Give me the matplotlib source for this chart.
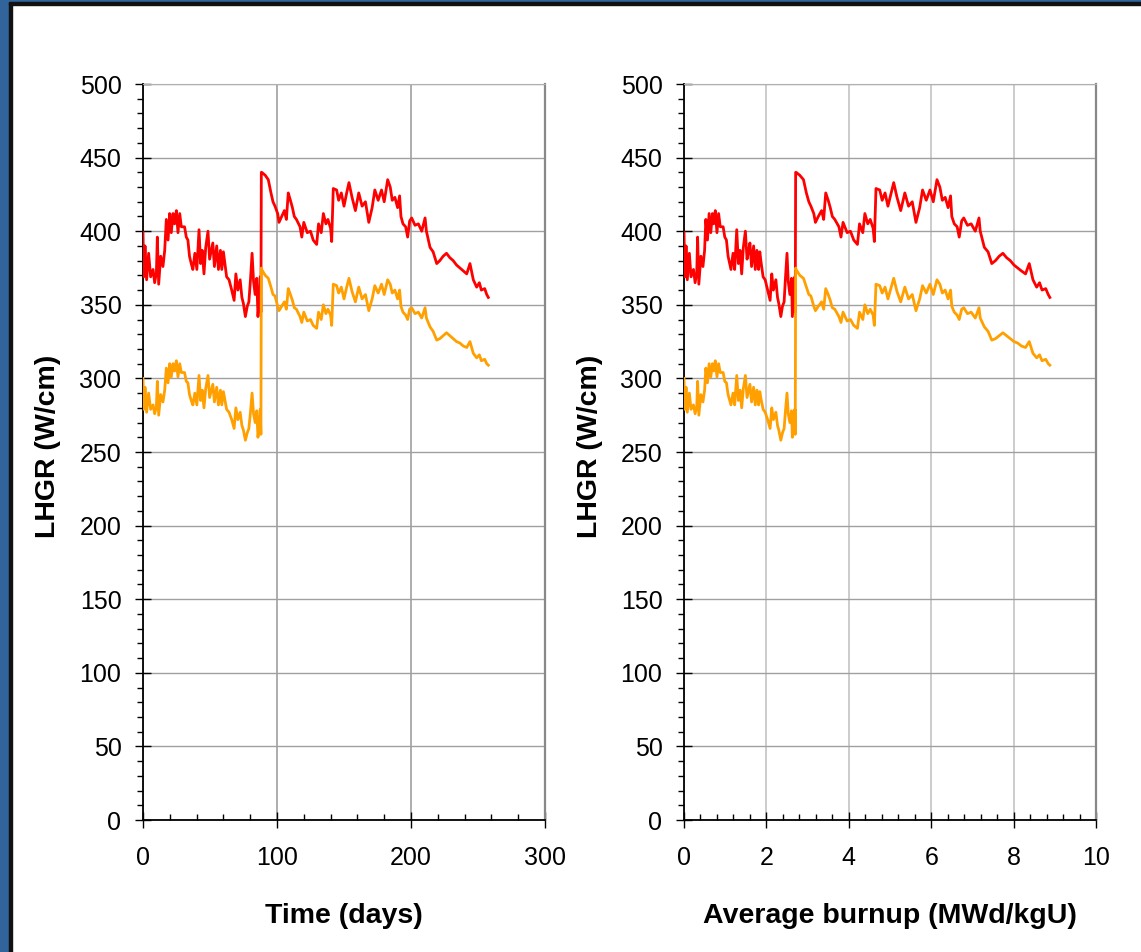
import numpy as np
import matplotlib
matplotlib.use('Agg')
import matplotlib.pyplot as plt
from matplotlib.ticker import MultipleLocator
from matplotlib.patches import Rectangle

plt.rcParams['font.family'] = ['Liberation Sans', 'DejaVu Sans']

# time (days)
time = [0.0, 0.6, 1.5, 2.7, 4.2, 5.7, 7.5, 8.7, 10.0, 10.7,
        11.7, 13.2, 14.9, 16.2, 17.4, 18.7, 19.9, 21.1, 22.4, 23.6,
        24.9, 26.1, 27.4, 28.6, 31.0, 32.3, 33.5, 34.7, 36.0, 37.2,
        38.7, 40.2, 41.8, 43.0, 44.2, 45.5, 46.8, 48.5, 49.7, 51.0,
        52.1, 53.3, 55.0, 56.3, 57.8, 58.8, 60.0, 61.0, 62.4, 64.2,
        66.2, 68.0, 69.3, 70.8, 72.5, 73.8, 74.9, 76.4, 77.8, 79.0,
        80.2, 81.4, 82.5, 83.7, 84.9, 85.8, 86.8, 87.5, 88.0, 88.3,
        88.6, 91.2, 93.5, 95.5, 97.0, 98.5, 100.5, 101.5, 103.5, 105.5,
        107.0, 108.4, 110.0, 111.5, 112.9, 114.5, 117.2, 118.5, 120.0, 122.6,
        125.0, 127.0, 129.6, 131.0, 133.0, 134.6, 136.5, 138.0, 140.0, 140.8,
        142.0, 144.5, 146.0, 148.0, 150.0, 152.0, 153.7, 156.0, 158.5, 161.0,
        163.5, 166.0, 168.5, 171.0, 173.0, 175.5, 178.0, 180.0, 182.6, 184.5,
        186.0, 188.0, 190.0, 191.5, 192.5, 194.0, 196.0, 197.5, 199.0, 200.5,
        203.0, 205.5, 208.0, 210.5, 211.5, 214.2, 216.5, 219.2, 221.5, 224.0,
        226.5, 229.0, 231.5, 234.0, 236.5, 239.0, 241.6, 244.0, 246.5, 249.0,
        251.0, 252.5, 255.0, 256.5, 257.7]

# average burnup (MWd/kgU) at the same samples
burnup = [0.00, 0.02, 0.05, 0.08, 0.13, 0.17, 0.23, 0.27, 0.31, 0.33,
          0.36, 0.41, 0.46, 0.50, 0.53, 0.57, 0.61, 0.65, 0.69, 0.72,
          0.76, 0.80, 0.84, 0.88, 0.95, 0.99, 1.03, 1.07, 1.11, 1.14,
          1.19, 1.23, 1.28, 1.32, 1.36, 1.40, 1.44, 1.49, 1.53, 1.57,
          1.60, 1.64, 1.69, 1.73, 1.77, 1.81, 1.84, 1.87, 1.92, 1.97,
          2.03, 2.09, 2.13, 2.17, 2.23, 2.27, 2.30, 2.35, 2.39, 2.43,
          2.46, 2.50, 2.53, 2.57, 2.61, 2.63, 2.66, 2.69, 2.70, 2.71,
          2.72, 2.81, 2.90, 2.97, 3.03, 3.08, 3.15, 3.19, 3.26, 3.34,
          3.39, 3.44, 3.50, 3.55, 3.60, 3.66, 3.76, 3.81, 3.86, 3.96,
          4.04, 4.12, 4.21, 4.26, 4.34, 4.39, 4.46, 4.52, 4.59, 4.62,
          4.66, 4.75, 4.81, 4.88, 4.95, 5.03, 5.09, 5.17, 5.26, 5.36,
          5.45, 5.54, 5.63, 5.72, 5.79, 5.88, 5.97, 6.05, 6.14, 6.21,
          6.27, 6.34, 6.41, 6.47, 6.50, 6.56, 6.63, 6.68, 6.74, 6.79,
          6.88, 6.97, 7.07, 7.16, 7.19, 7.29, 7.38, 7.47, 7.56, 7.65,
          7.74, 7.83, 7.92, 8.01, 8.10, 8.19, 8.29, 8.38, 8.47, 8.56,
          8.63, 8.69, 8.78, 8.84, 8.88]

# peak LHGR (W/cm) - red
lhgr_peak = [399, 369, 390, 367, 385, 369, 374, 365, 372, 396,
             364, 383, 376, 387, 408, 394, 412, 399, 412, 405,
             414, 399, 412, 403, 403, 396, 394, 383, 378, 374,
             385, 374, 401, 378, 387, 371, 389, 400, 381, 387,
             392, 376, 390, 374, 387, 374, 386, 379, 369, 367,
             360, 353, 371, 360, 367, 355, 351, 342, 349, 352,
             367, 385, 366, 357, 368, 342, 355, 369, 345, 440,
             440, 438, 435, 426, 420, 417, 412, 406, 410, 414,
             408, 426, 421, 416, 410, 408, 403, 396, 406, 399,
             400, 394, 391, 405, 399, 412, 405, 408, 402, 393,
             429, 428, 421, 426, 417, 426, 433, 423, 414, 426,
             417, 420, 406, 416, 428, 421, 428, 420, 435, 430,
             421, 423, 416, 424, 410, 405, 403, 396, 407, 409,
             404, 405, 400, 409, 400, 389, 386, 378, 380, 383,
             385, 382, 380, 377, 375, 373, 371, 378, 367, 362,
             365, 360, 361, 357, 355]

# average LHGR (W/cm) - orange
lhgr_avg = [300, 279, 294, 277, 290, 279, 282, 276, 281, 298,
            275, 289, 284, 292, 307, 297, 310, 301, 310, 305,
            312, 301, 310, 304, 304, 298, 297, 289, 285, 282,
            290, 282, 302, 285, 292, 280, 293, 302, 287, 292,
            296, 284, 294, 282, 292, 282, 291, 286, 279, 277,
            272, 266, 280, 272, 277, 268, 265, 258, 263, 266,
            277, 290, 276, 270, 278, 260, 268, 279, 262, 375,
            374, 370, 368, 362, 357, 356, 349, 346, 349, 352,
            347, 361, 357, 353, 348, 347, 342, 338, 345, 339,
            340, 336, 334, 345, 340, 350, 344, 347, 343, 336,
            364, 363, 358, 362, 354, 362, 368, 359, 352, 362,
            354, 357, 346, 354, 363, 358, 364, 357, 367, 364,
            358, 360, 354, 360, 349, 345, 343, 340, 347, 348,
            344, 345, 341, 348, 341, 335, 332, 326, 327, 329,
            331, 329, 327, 325, 324, 322, 321, 325, 317, 314,
            316, 312, 313, 310, 309]

assert len(time) == len(burnup) == len(lhgr_peak) == len(lhgr_avg)

W, H = 1141, 952
fig = plt.figure(figsize=(W / 100, H / 100), dpi=100)
fig.patch.set_facecolor('white')

# frame decoration: blue strip on the left and top, black inner line
fig.patches.append(Rectangle((0, 0), 8.5 / W, 1, transform=fig.transFigure,
                             color='#30649a', zorder=0))
fig.patches.append(Rectangle((8.5 / W, 0), 3 / W, 1, transform=fig.transFigure,
                             color='#111111', zorder=0))
fig.patches.append(Rectangle((0, 1 - 1.8 / H), 1, 1.8 / H, transform=fig.transFigure,
                             color='#30649a', zorder=0))
fig.patches.append(Rectangle((8.5 / W, 1 - 4.5 / H), 1, 2.7 / H, transform=fig.transFigure,
                             color='#111111', zorder=0))

ax1 = fig.add_axes([143 / W, 1 - 820 / H, 402 / W, 736 / H])
ax2 = fig.add_axes([684 / W, 1 - 820 / H, 412 / W, 736 / H])

panels = [
    (ax1, time, 300, 100, 20, 'Time (days)', -0.204, '#a0a0a0'),
    (ax2, burnup, 10, 2, 0.4, 'Average burnup (MWd/kgU)', -0.196, '#c4c4c4'),
]

for ax, xs, xmax, xmaj, xmin, xlabel, ylab_x, vgrid in panels:
    ax.plot(xs, lhgr_peak, color='#ff0000', lw=2.0, zorder=3)
    ax.plot(xs, lhgr_avg, color='#ffa000', lw=2.0, zorder=3)
    ax.set_xlim(0, xmax)
    ax.set_ylim(0, 500)
    ax.xaxis.set_major_locator(MultipleLocator(xmaj))
    ax.xaxis.set_minor_locator(MultipleLocator(xmin))
    ax.yaxis.set_major_locator(MultipleLocator(50))
    ax.yaxis.set_minor_locator(MultipleLocator(10))
    ax.grid(True, axis='y', which='major', color='#a0a0a0', lw=1.0)
    ax.grid(True, axis='x', which='major', color=vgrid, lw=1.2)
    ax.set_axisbelow(True)

    ax.tick_params(axis='x', which='major', direction='inout', length=11,
                   width=1.0, labelsize=18, pad=13)
    ax.tick_params(axis='x', which='minor', direction='in', length=4, width=1.0)
    ax.tick_params(axis='y', which='major', direction='inout', length=11,
                   width=1.0, labelsize=18, pad=10)
    ax.tick_params(axis='y', which='minor', direction='out', length=4, width=1.0)

    ax.spines['left'].set_color('black')
    ax.spines['bottom'].set_color('black')
    ax.spines['left'].set_linewidth(1.3)
    ax.spines['bottom'].set_linewidth(1.3)
    ax.spines['top'].set_color('#b0b0b0')
    ax.spines['right'].set_color('#888888')
    ax.spines['right'].set_linewidth(1.6)

    ax.set_xlabel(xlabel, fontsize=20.5, fontweight='bold')
    ax.xaxis.set_label_coords(0.5, -(83) / 736)
    ax.set_ylabel('LHGR (W/cm)', fontsize=20.5, fontweight='bold')
    ax.yaxis.set_label_coords(ylab_x, (820 - 446) / 736)

fig.savefig('out.png', dpi=100)
